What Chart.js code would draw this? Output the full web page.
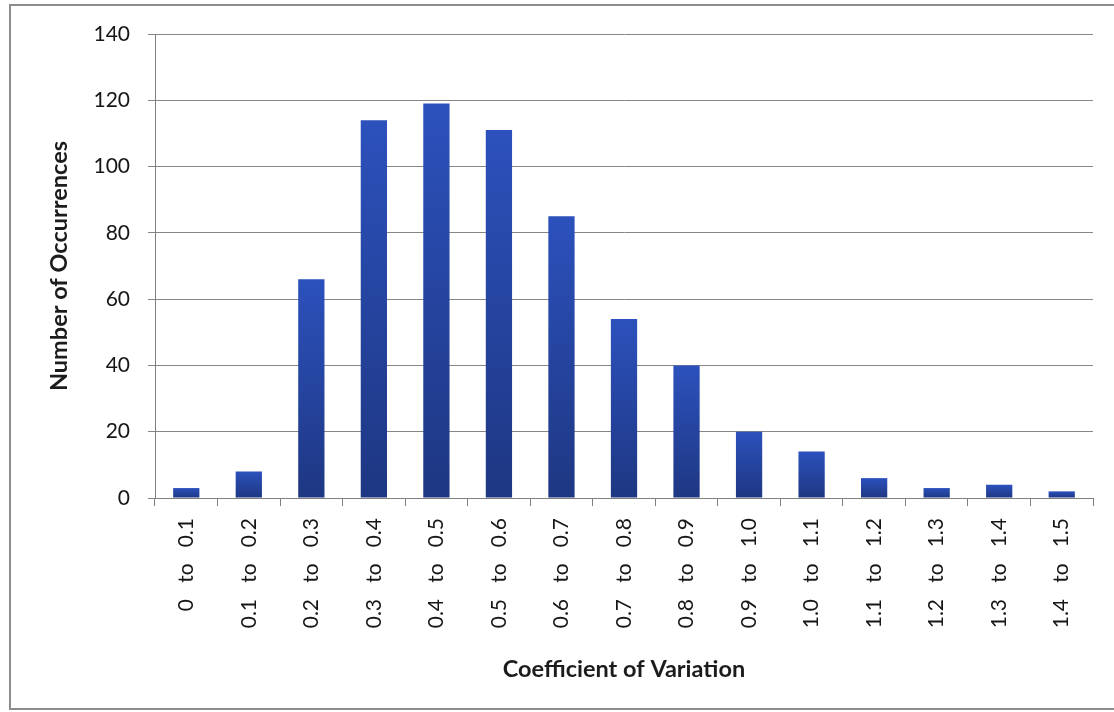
<!DOCTYPE html>
<html>
<head>
<meta charset="utf-8">
<script src="https://cdn.jsdelivr.net/npm/chart.js@4.4.1/dist/chart.umd.min.js"></script>
<style>
  html, body { margin: 0; padding: 0; background: #fff; }
  #wrap { position: relative; width: 1114px; height: 712px; }
</style>
</head>
<body>
<div id="wrap"><canvas id="c" width="1114" height="712"></canvas></div>
<script>
// Coefficient-of-variation bins and how many cases fall into each
const categories = [
  '0   to   0.1', '0.1   to   0.2', '0.2   to   0.3', '0.3   to   0.4', '0.4   to   0.5',
  '0.5   to   0.6', '0.6   to   0.7', '0.7   to   0.8', '0.8   to   0.9', '0.9   to   1.0',
  '1.0   to   1.1', '1.1   to   1.2', '1.2   to   1.3', '1.3   to   1.4', '1.4   to   1.5'
];
const occurrences = [3, 8, 66, 114, 119, 111, 85, 54, 40, 20, 14, 6, 3, 4, 2];
const yTickValues = [0, 20, 40, 60, 80, 100, 120, 140];

const xTitle = 'Coefficient of Variation';
const yTitle = 'Number of Occurrences';

const FONT = 'Lato, "Open Sans", sans-serif';
const AXIS_GREY = '#7f7f7f';
const TEXT = '#161616';

// Thin frame around the whole chart
const frame = {
  id: 'frame',
  beforeDraw(chart) {
    const c = chart.ctx;
    c.save();
    c.fillStyle = '#ffffff';
    c.fillRect(0, 0, chart.width, chart.height);
    c.strokeStyle = '#8c8c8c';
    c.lineWidth = 2;
    c.strokeRect(10, 5, 1120, 704);
    c.restore();
  }
};

// Each bar shades from a brighter blue at its top to navy at its base
function barFill(ctx) {
  const chart = ctx.chart;
  const { chartArea, scales } = chart;
  if (!chartArea || ctx.type !== 'data') return '#2746a3';
  const top = scales.y.getPixelForValue(ctx.raw);
  const base = scales.y.getPixelForValue(0);
  if (!isFinite(top) || !isFinite(base) || top === base) return '#2746a3';
  const g = chart.ctx.createLinearGradient(0, top, 0, base);
  g.addColorStop(0, '#2c51bc');
  g.addColorStop(1, '#1e3782');
  return g;
}

new Chart(document.getElementById('c'), {
  type: 'bar',
  data: {
    labels: categories,
    datasets: [{
      data: occurrences,
      backgroundColor: barFill,
      borderWidth: 0,
      barPercentage: 0.42,
      categoryPercentage: 1.0
    }]
  },
  plugins: [frame],
  options: {
    responsive: false,
    animation: false,
    devicePixelRatio: 1,
    layout: { padding: { left: 10, right: 21, top: 34, bottom: 20 } },
    plugins: { legend: { display: false }, tooltip: { enabled: false } },
    scales: {
      x: {
        grid: { offset: true, drawOnChartArea: false, drawTicks: true, tickLength: 8, color: AXIS_GREY },
        border: { color: AXIS_GREY, width: 1 },
        ticks: {
          autoSkip: false, minRotation: 90, maxRotation: 90, padding: 12,
          color: TEXT, font: { family: FONT, size: 21 }
        },
        title: {
          display: true, text: xTitle, color: '#1c1c1c',
          font: { family: FONT, size: 23.5, weight: 'bold' },
          padding: { top: 0, bottom: 8 }
        },
        afterFit(scale) { scale.height = 194; }
      },
      y: {
        min: 0, max: 140,
        afterBuildTicks(scale) { scale.ticks = yTickValues.map(v => ({ value: v })); },
        grid: { color: '#868686', tickLength: 7, drawTicks: true },
        border: { color: AXIS_GREY, width: 1 },
        ticks: { padding: 18, color: TEXT, font: { family: FONT, size: 21 } },
        title: {
          display: true, text: yTitle, color: '#1c1c1c',
          font: { family: FONT, size: 23.5, weight: 'bold' },
          padding: { top: 35, bottom: 0 }
        },
        afterFit(scale) { scale.width = 145; }
      }
    }
  }
});
</script>
</body>
</html>
